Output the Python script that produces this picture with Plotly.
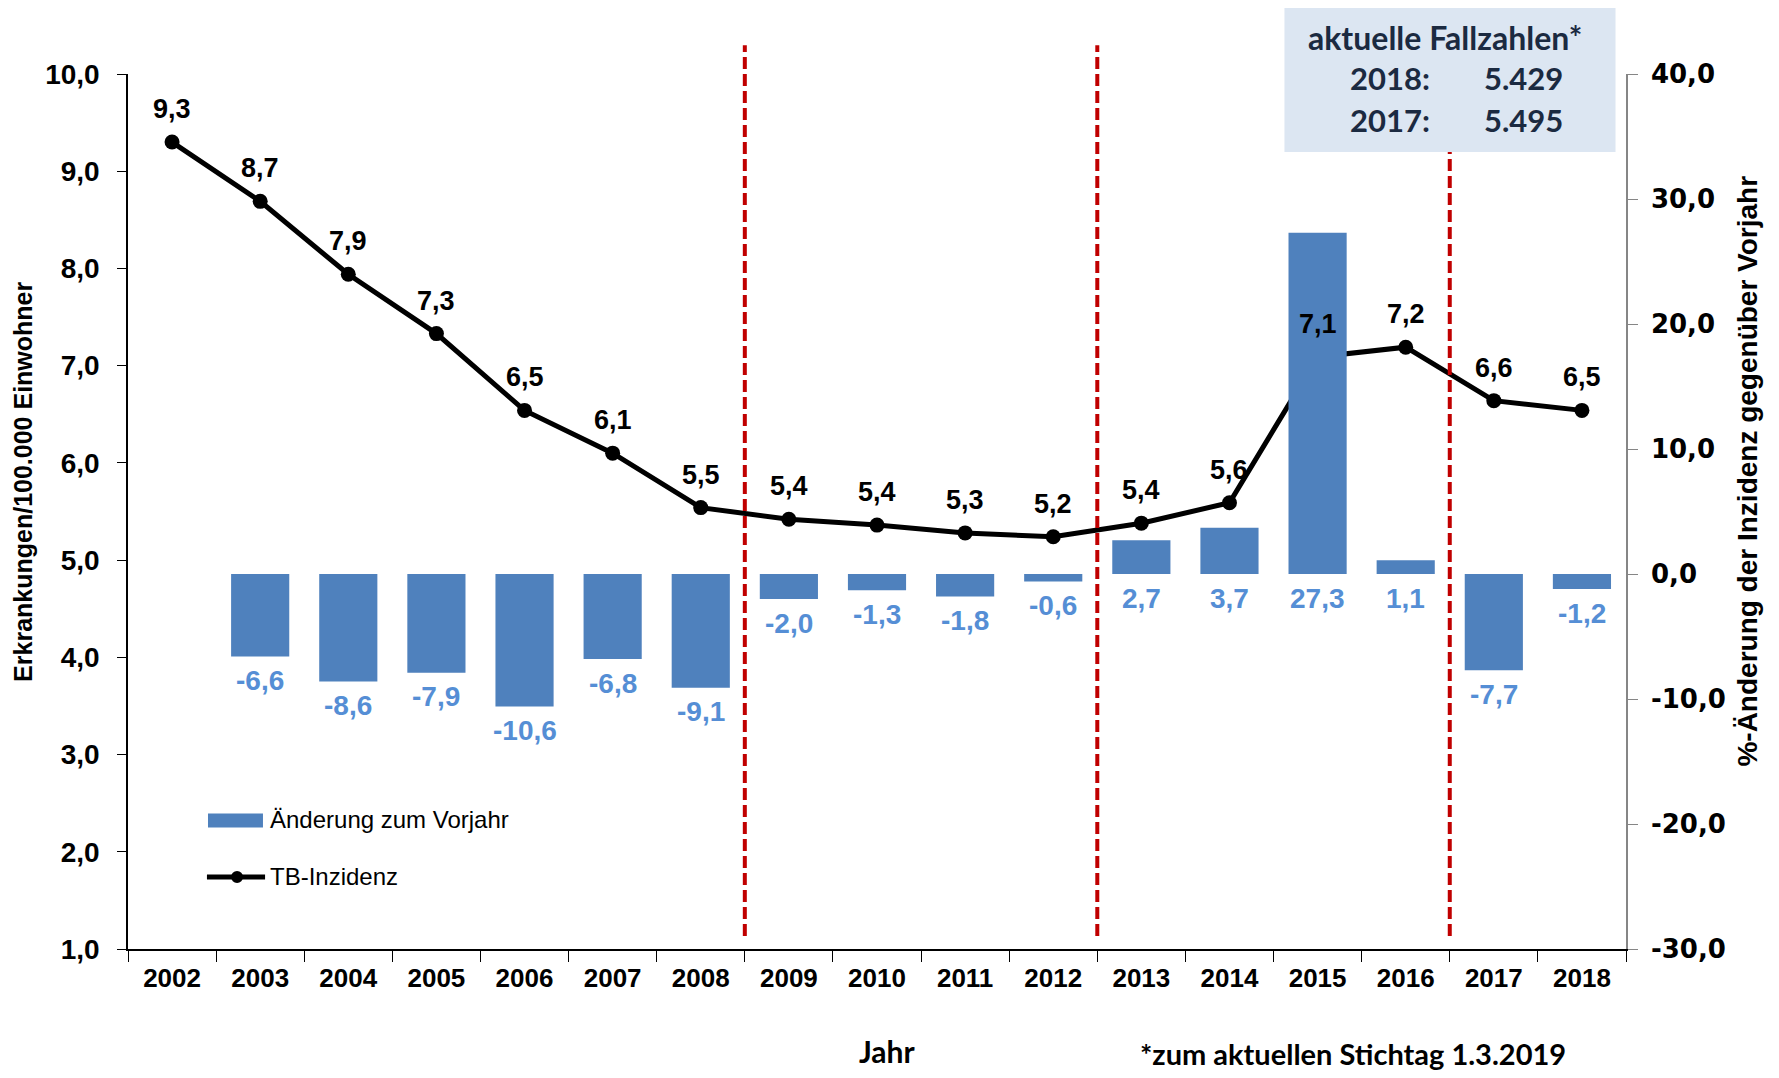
import plotly.graph_objects as go

# ── Data ────────────────────────────────────────────────────────────────────
YEARS = [str(y) for y in range(2002, 2019)]
INCIDENCE = [9.30, 8.69, 7.94, 7.33, 6.54, 6.10, 5.54, 5.42, 5.36,
             5.28, 5.24, 5.38, 5.59, 7.09, 7.19, 6.64, 6.54]
CHANGE = [None, -6.6, -8.6, -7.9, -10.6, -6.8, -9.1, -2.0, -1.3,
          -1.8, -0.6, 2.7, 3.7, 27.3, 1.1, -7.7, -1.2]
DIVIDER_AFTER = ["2008", "2012", "2016"]
LEFT_TICKS = list(range(1, 11))
RIGHT_TICKS = list(range(-30, 41, 10))
CASES = [("2018:", "5.429"), ("2017:", "5.495")]

# ── Theme ───────────────────────────────────────────────────────────────────
BAR_BLUE = "#4F81BD"
LABEL_BLUE = "#558ED5"
RED = "#C00000"
BOX_FILL = "#DCE6F2"
BOX_TEXT = "#1B2A41"
ARIAL = "Liberation Sans, Arial, sans-serif"
WIDE = "DejaVu Sans, Verdana, sans-serif"
CALIBRI = "Lato, Open Sans, sans-serif"


def de(v):
    return f"{v:.1f}".replace(".", ",")


def note(x, y, text, font, **kw):
    d = dict(x=x, y=y, xref="paper", yref="paper", text=text, showarrow=False,
             xanchor="center", yanchor="middle", font=font)
    d.update(kw)
    return d


fig = go.Figure()

fig.add_trace(go.Bar(
    x=YEARS, y=CHANGE, yaxis="y2", name="Änderung zum Vorjahr",
    marker=dict(color=BAR_BLUE, line=dict(width=0)),
    showlegend=False,
))
fig.add_trace(go.Scatter(
    x=YEARS, y=INCIDENCE, mode="lines+markers", name="TB-Inzidenz",
    line=dict(color="black", width=5),
    marker=dict(color="black", size=15),
    showlegend=False,
))

annotations = []
# line value labels (x as category index)
for i, v in enumerate(INCIDENCE):
    annotations.append(dict(
        x=i, y=v, xref="x", yref="y", text=de(v), showarrow=False,
        xanchor="center", yanchor="middle", yshift=33,
        font=dict(family=ARIAL, size=27, color="black", weight="bold"),
    ))
# bar value labels
for i, v in enumerate(CHANGE):
    if v is None:
        continue
    annotations.append(dict(
        x=i, y=min(v, 0), xref="x", yref="y2", text=de(v), showarrow=False,
        xanchor="center", yanchor="middle", yshift=-24,
        font=dict(family=ARIAL, size=28, color=LABEL_BLUE, weight="bold"),
    ))

bold = lambda fam, size, col="black": dict(family=fam, size=size, color=col, weight="bold")

# axis titles and footnotes
annotations += [
    note(-0.070, 0.534, "Erkrankungen/100.000 Einwohner", bold(ARIAL, 25), textangle=-90),
    note(1.081, 0.546, "%-Änderung der Inzidenz gegenüber Vorjahr", bold(ARIAL, 28),
         textangle=-90),
    note(0.507, -0.117, "Jahr", bold(CALIBRI, 30)),
    note(0.818, -0.119, "*zum aktuellen Stichtag 1.3.2019", bold(CALIBRI, 29)),
    note(0.879, 1.042, "aktuelle Fallzahlen*", bold(CALIBRI, 32, BOX_TEXT)),
]
for i, (yr, n) in enumerate(CASES):
    yy = 0.9954 - i * 0.048
    annotations.append(note(0.8705, yy, yr, bold(CALIBRI, 31, BOX_TEXT), xanchor="right"))
    annotations.append(note(0.9039, yy, n, bold(CALIBRI, 31, BOX_TEXT), xanchor="left"))

# hand-drawn legend text
annotations += [
    note(0.0935, 0.148, "Änderung zum Vorjahr", dict(family=ARIAL, size=24, color="black"),
         xanchor="left"),
    note(0.0935, 0.0823, "TB-Inzidenz", dict(family=ARIAL, size=24, color="black"),
         xanchor="left"),
]

shapes = []
for yr in DIVIDER_AFTER:
    xi = YEARS.index(yr) + 0.5
    shapes.append(dict(type="line", xref="x", yref="paper", x0=xi, x1=xi,
                       y0=0.015, y1=1.033, layer="above",
                       line=dict(color=RED, width=4, dash="12px,5px")))
# box with current case counts
shapes.append(dict(type="rect", xref="paper", yref="paper", x0=0.772, x1=0.993,
                   y0=0.911, y1=1.081, fillcolor=BOX_FILL, line=dict(width=0),
                   layer="above"))
# legend symbols
shapes += [
    dict(type="rect", xref="paper", yref="paper", x0=0.0534, x1=0.0901,
         y0=0.139, y1=0.155, fillcolor=BAR_BLUE, line=dict(width=0)),
    dict(type="line", xref="paper", yref="paper", x0=0.0527, x1=0.0915,
         y0=0.0823, y1=0.0823, line=dict(color="black", width=5)),
    dict(type="circle", xref="paper", yref="paper", xsizemode="pixel",
         ysizemode="pixel", xanchor=0.0728, yanchor=0.0823,
         x0=-6, x1=6, y0=-6, y1=6, fillcolor="black", line=dict(width=0)),
]

# page body adds an 8px margin, so the figure is 16px smaller
fig.update_layout(
    width=1763, height=1062,
    paper_bgcolor="white", plot_bgcolor="white",
    margin=dict(l=120, r=145, t=66, b=121),
    bargap=0.34,
    font=dict(family=ARIAL, color="black"),
    xaxis=dict(
        type="category", range=[-0.5, len(YEARS) - 0.5],
        tickson="boundaries", ticks="outside", ticklen=11,
        tickcolor="black", showline=True, linecolor="black", linewidth=1.5,
        showgrid=False, ticklabelstandoff=5,
        tickfont=dict(family=ARIAL, size=26, color="black", weight="bold"),
    ),
    yaxis=dict(
        range=[1, 10], tickvals=LEFT_TICKS, ticktext=[de(v) for v in LEFT_TICKS],
        ticks="outside", ticklen=9, tickcolor="black", showline=True,
        linecolor="black", linewidth=1.5, showgrid=False, zeroline=False,
        ticklabelstandoff=12,
        tickfont=dict(family=ARIAL, size=28, color="black", weight="bold"),
    ),
    yaxis2=dict(
        range=[-30, 40], overlaying="y", side="right",
        tickvals=RIGHT_TICKS, ticktext=[de(v) for v in RIGHT_TICKS],
        ticks="outside", ticklen=10, tickcolor="#868686", showline=True,
        linecolor="#868686", linewidth=1.5, showgrid=False, zeroline=False,
        ticklabelstandoff=8,
        tickfont=dict(family=WIDE, size=26, color="black", weight="bold"),
    ),
    annotations=annotations,
    shapes=shapes,
)

fig.write_html("out.html")
